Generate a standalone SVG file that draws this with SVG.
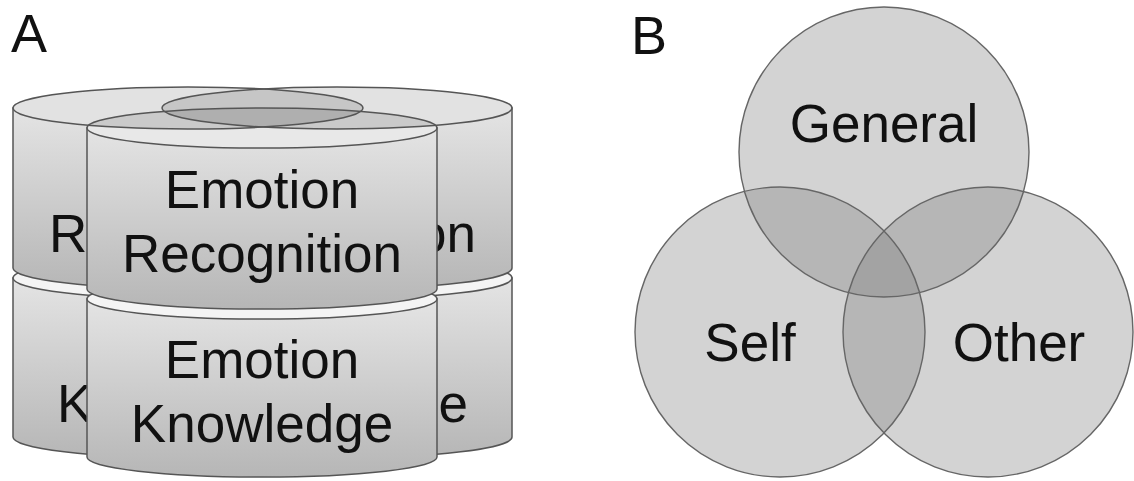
<svg xmlns="http://www.w3.org/2000/svg" width="1134" height="481" viewBox="0 0 1134 481">
<defs>
<linearGradient id="body" x1="0" y1="0" x2="0" y2="1">
<stop offset="0" stop-color="#e4e4e4"/>
<stop offset="1" stop-color="#b6b6b6"/>
</linearGradient>
<clipPath id="cBR"><ellipse cx="337" cy="108" rx="175" ry="21"/></clipPath>
<clipPath id="cF"><ellipse cx="262" cy="128" rx="175" ry="20"/></clipPath>
</defs>
<style>
.body{fill:url(#body);stroke:#555;stroke-width:1.5}
.lip{fill:#f4f4f4;stroke:#555;stroke-width:1.5}
.top{fill:#e2e2e2;stroke:none}
.edge{fill:none;stroke:#555;stroke-width:1.5}
.lbl{font-family:"Liberation Sans",Arial,sans-serif;font-size:53px;fill:#111;text-anchor:middle}
.ls{font-family:"Liberation Sans",Arial,sans-serif;font-size:53px;fill:#111}
.pl{font-family:"Liberation Sans",Arial,sans-serif;font-size:54px;fill:#111}
.vf{fill:#808080;fill-opacity:0.35;stroke:none}
.vs{fill:none;stroke:#666;stroke-width:1.4}
</style>
<rect width="1134" height="481" fill="#fff"/>
<text class="pl" x="11" y="52">A</text>
<text class="pl" x="631" y="54">B</text>

<g id="back-left-knowledge">
<path class="body" d="M13,278 V437 A175,21 0 0 0 363,437 V278 Z"/>
<ellipse class="lip" cx="188" cy="278" rx="175" ry="21"/>
<text class="ls" x="57" y="422">K</text>
</g>
<g id="back-right-knowledge">
<path class="body" d="M162,278 V437 A175,21 0 0 0 512,437 V278 Z"/>
<ellipse class="lip" cx="337" cy="278" rx="175" ry="21"/>
<text class="ls" x="468" y="422" text-anchor="end">e</text>
</g>
<g id="back-left-recognition">
<path class="body" d="M13,108 V268 A175,21 0 0 0 363,268 V108 Z"/>
<text class="ls" x="49" y="252">R</text>
</g>
<g id="back-right-recognition">
<path class="body" d="M162,108 V268 A175,21 0 0 0 512,268 V108 Z"/>
<text class="ls" x="476" y="252" text-anchor="end">on</text>
</g>
<g id="back-tops">
<ellipse class="top" cx="188" cy="108" rx="175" ry="21"/>
<ellipse class="top" cx="337" cy="108" rx="175" ry="21"/>
<ellipse cx="188" cy="108" rx="175" ry="21" fill="#c6c6c6" clip-path="url(#cBR)"/>
</g>

<g id="front-knowledge">
<path class="body" d="M87,299 V457 A175,20 0 0 0 437,457 V299 Z"/>
<ellipse class="lip" cx="262" cy="299" rx="175" ry="20"/>
<text class="lbl" x="262" y="378">Emotion</text>
<text class="lbl" x="262" y="442">Knowledge</text>
</g>
<g id="front-recognition">
<path class="body" d="M87,128 V289 A175,20 0 0 0 437,289 V128 Z"/>
<ellipse cx="262" cy="128" rx="175" ry="20" fill="#e8e8e8"/>
<g clip-path="url(#cF)">
<ellipse cx="188" cy="108" rx="175" ry="21" fill="#000" fill-opacity="0.13"/>
<ellipse cx="337" cy="108" rx="175" ry="21" fill="#000" fill-opacity="0.13"/>
</g>
<ellipse class="edge" cx="262" cy="128" rx="175" ry="20"/>
<ellipse class="edge" cx="188" cy="108" rx="175" ry="21"/>
<ellipse class="edge" cx="337" cy="108" rx="175" ry="21"/>
<text class="lbl" x="262" y="208">Emotion</text>
<text class="lbl" x="262" y="272">Recognition</text>
</g>

<g id="connectors"/>

<g id="venn">
<g id="general"><circle class="vf" cx="884" cy="152" r="145"/></g>
<g id="self"><circle class="vf" cx="780" cy="332" r="145"/></g>
<g id="other"><circle class="vf" cx="988" cy="332" r="145"/></g>
<circle class="vs" cx="884" cy="152" r="145"/>
<circle class="vs" cx="780" cy="332" r="145"/>
<circle class="vs" cx="988" cy="332" r="145"/>
<text class="lbl" x="884" y="142">General</text>
<text class="lbl" x="750" y="361">Self</text>
<text class="lbl" x="1019" y="361">Other</text>
</g>
</svg>
